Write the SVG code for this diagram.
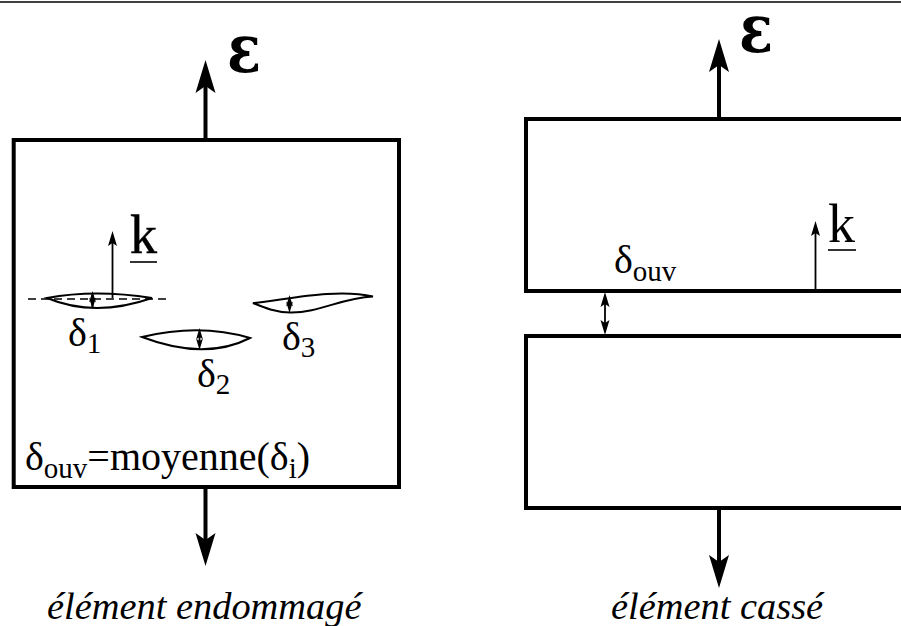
<svg xmlns="http://www.w3.org/2000/svg" width="901" height="626" viewBox="0 0 901 626">
<style>
text{font-family:"Liberation Serif","Times New Roman",serif;fill:#000}
.t{font-size:40px}
.k{font-size:54px;stroke:#000;stroke-width:.5}
.s{font-size:29px}
.e{font-family:"DejaVu Serif",serif;font-size:56px;font-weight:bold}
.c{font-size:38.4px;font-style:italic}
.box{fill:none;stroke:#000;stroke-width:4}
.thick{fill:none;stroke:#000;stroke-width:4}
.thin{fill:none;stroke:#000;stroke-width:1.8}
.crack{fill:none;stroke:#000;stroke-width:2}
.ul{stroke:#000;stroke-width:1.6}
</style>
<defs>
<path id="hu" d="M0 0L-10 33L0 26L10 33Z" fill="#000"/>
<path id="hs" d="M0 0L-4.500 15L0 12L4.500 15Z" fill="#000"/>
</defs>
<rect width="901" height="626" fill="#fff"/>
<line x1="0" y1="2" x2="901" y2="2" stroke="#000" stroke-width="1.6"/>
<g id="element-endommage">
<rect class="box" x="13.700" y="140" width="385.300" height="347"/>
<path class="crack" d="M47 298Q95 289 152 298Q95 318 47 298Z"/>
<path class="crack" d="M142 337Q200 323 250 338Q205 361 142 337Z"/>
<path class="crack" d="M253 303C285 300 335 288 373 296.500C340 298 320 313 290 312.500C275 312 265 308 253 303Z"/>
<line x1="28" y1="299" x2="170" y2="299" stroke="#000" stroke-width="1.6" stroke-dasharray="8 5"/>
<text class="t" x="68" y="346">δ<tspan class="s" dy="7">1</tspan></text>
<text class="t" x="197" y="387">δ<tspan class="s" dy="7">2</tspan></text>
<text class="t" x="282" y="350">δ<tspan class="s" dy="7">3</tspan></text>
<text class="k" x="130" y="253">k</text>
<line class="ul" x1="130" y1="262" x2="157" y2="262"/>
<text class="t" x="25" y="470">δ<tspan class="s" dy="8">ouv</tspan><tspan dy="-8">=moyenne(δ</tspan><tspan class="s" dy="8">i</tspan><tspan dy="-8">)</tspan></text>
<text class="e" transform="translate(227 72) scale(1 1.2)">ε</text>
<text class="c" x="47" y="619">élément endommagé</text>
</g>
<g id="element-casse">
<path class="box" d="M901 119H526V291H901"/>
<path class="box" d="M901 336H526V508H901"/>
<text class="e" transform="translate(739 52) scale(1 1.2)">ε</text>
<text class="t" x="614" y="273">δ<tspan class="s" dy="8">ouv</tspan></text>
<text class="k" x="828" y="242" style="stroke-width:0">k</text>
<line class="ul" x1="828" y1="250" x2="856" y2="250"/>
<text class="c" x="611" y="619">élément cassé</text>
</g>
<g id="connectors">
<line class="thick" x1="205.500" y1="140" x2="205.500" y2="85"/><use href="#hu" x="205.500" y="60"/>
<line class="thick" x1="205.500" y1="487" x2="205.500" y2="540"/><use href="#hu" transform="translate(205.500 566) scale(1 -1)"/>
<line class="thick" x1="719" y1="119" x2="719" y2="65"/><use href="#hu" x="719" y="39"/>
<line class="thick" x1="719" y1="508" x2="719" y2="562"/><use href="#hu" transform="translate(719 588) scale(1 -1)"/>
<line class="thin" x1="112.500" y1="298" x2="112.500" y2="240"/><use href="#hs" x="112.500" y="231"/>
<line class="thin" x1="815.500" y1="291" x2="815.500" y2="230"/><use href="#hs" x="815.500" y="221"/>
<line class="thin" x1="605" y1="298" x2="605" y2="330"/><use href="#hs" x="605" y="292"/><use href="#hs" transform="translate(605 335) scale(1 -1)"/>
<g id="gaps">
<line class="thin" x1="92.500" y1="295" x2="92.500" y2="307"/><use href="#hs" transform="translate(92.500 291) scale(.75)"/><use href="#hs" transform="translate(92.500 309) scale(.75 -.75)"/>
<line class="thin" x1="199.500" y1="333" x2="199.500" y2="345"/><use href="#hs" transform="translate(199.500 328) scale(.75)"/><use href="#hs" transform="translate(199.500 350) scale(.75 -.75)"/>
<line class="thin" x1="289.500" y1="300" x2="289.500" y2="308"/><use href="#hs" transform="translate(289.500 295) scale(.75)"/><use href="#hs" transform="translate(289.500 313) scale(.75 -.75)"/>
</g>
</g>
</svg>
